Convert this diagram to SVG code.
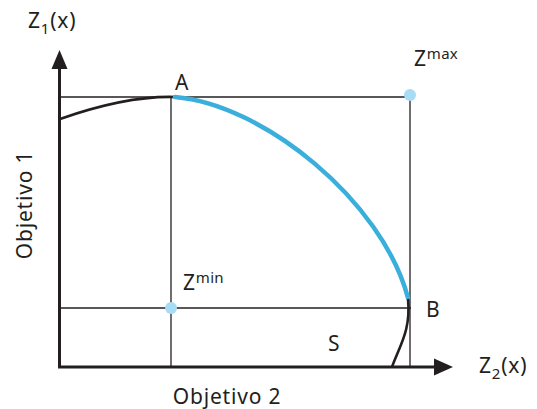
<svg xmlns="http://www.w3.org/2000/svg" width="537" height="409" viewBox="0 0 537 409">
<style>
text{font-family:"Noto Sans","Open Sans",sans-serif;fill:#231f20;font-size:21px;letter-spacing:0.8px}
.sup{font-size:15px;letter-spacing:0.3px}
.sub{font-size:15px}
.thin{stroke:#231f20;stroke-width:1.3;fill:none}
.axis{stroke:#231f20;stroke-width:3;fill:none}
.curve{stroke:#231f20;stroke-width:2.6;fill:none}
.front{stroke:#3aafdc;stroke-width:4.5;fill:none;stroke-linecap:round}
.dot{fill:#a8dcf5}
</style>
<g id="connectors">
<line class="thin" x1="60" y1="97" x2="411" y2="97"/>
<line class="thin" x1="60" y1="308" x2="411" y2="308"/>
<line class="thin" x1="171" y1="97" x2="171" y2="367"/>
<line class="thin" x1="410" y1="97" x2="410" y2="367"/>
</g>
<g id="axes">
<line class="axis" x1="59.5" y1="368" x2="59.5" y2="66"/>
<polygon points="59.5,50 51.5,69 67.5,69" fill="#231f20"/>
<line class="axis" x1="58" y1="367" x2="437" y2="367"/>
<polygon points="453,367 434,358.5 434,375.5" fill="#231f20"/>
<text x="28" y="28">Z<tspan class="sub" dy="6">1</tspan><tspan dy="-6">(x)</tspan></text>
<text x="479" y="373">Z<tspan class="sub" dy="6">2</tspan><tspan dy="-6">(x)</tspan></text>
<text transform="translate(32,205) rotate(-90)" text-anchor="middle">Objetivo 1</text>
<text x="227" y="404" text-anchor="middle">Objetivo 2</text>
</g>
<g id="curve">
<path class="curve" d="M60,119 C100,105 140,96 175,97"/>
<path class="front" d="M175,97 C262,104 382,200 408,298"/>
<path class="curve" d="M408,299 C411,330 400,345 392,367"/>
</g>
<g id="A"><text x="175" y="90">A</text></g>
<g id="B"><text x="426" y="317">B</text></g>
<g id="S"><text x="328" y="351">S</text></g>
<g id="zmax">
<circle class="dot" cx="410" cy="95" r="6"/>
<text x="414" y="66">Z<tspan class="sup" dy="-7">max</tspan></text>
</g>
<g id="zmin">
<circle class="dot" cx="171" cy="308" r="6"/>
<text x="183" y="290">Z<tspan class="sup" dy="-7">min</tspan></text>
</g>
</svg>
